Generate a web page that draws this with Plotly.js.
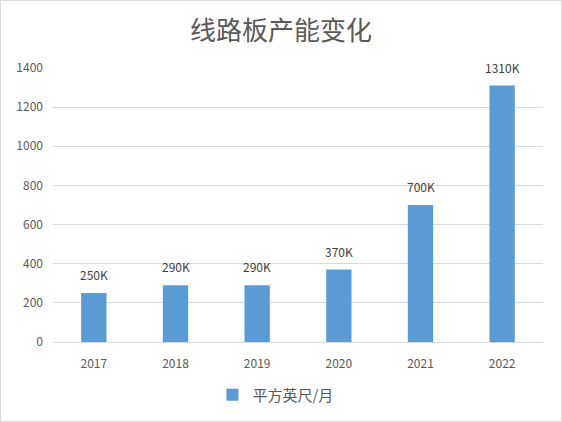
<!DOCTYPE html>
<html>
<head>
<meta charset="utf-8">
<script src="https://cdn.plot.ly/plotly-3.0.1.min.js"></script>
<style>
  body { margin: 0; background: #fff; }
  #chart { width: 560px; height: 420px; border: 1px solid #d9d9d9; }
</style>
</head>
<body>
<div id="chart"></div>
<script>
const years = ["2017", "2018", "2019", "2020", "2021", "2022"];
const capacity = [250, 290, 290, 370, 700, 1310];
const capacity_labels = ["250K", "290K", "290K", "370K", "700K", "1310K"];
const series_name = "平方英尺/月";

const font_family = "'Noto Sans CJK SC', 'Noto Sans', sans-serif";

const traces = [{
    x: years,
    y: capacity,
    type: "bar",
    name: series_name,
    marker: { color: "#5b9bd5" },
    hoverinfo: "x+y"
}];

// value labels above the bars (x as category index)
const label_annotations = capacity.map((value, i) => ({
    x: i,
    y: value,
    text: capacity_labels[i],
    showarrow: false,
    xanchor: "center",
    yanchor: "bottom",
    yshift: 8,
    font: { size: 12, color: "#404040", family: font_family }
}));

const layout = {
    width: 560, height: 420,
    margin: { l: 52, r: 18, t: 67, b: 79, pad: 0 },
    paper_bgcolor: "#ffffff",
    plot_bgcolor: "#ffffff",
    font: { family: font_family, color: "#595959", size: 12 },
    title: {
        text: "线路板产能变化",
        font: { size: 26, color: "#595959", family: font_family },
        x: 0.5, xanchor: "center",
        y: 0.93, yanchor: "middle"
    },
    bargap: 0.69,
    xaxis: {
        type: "category",
        range: [-0.5, years.length - 0.5],
        showgrid: false,
        showline: false,
        ticks: "",
        ticklabelstandoff: 13,
        tickfont: { size: 12, color: "#595959" }
    },
    yaxis: {
        range: [0, 1400],
        dtick: 200,
        gridcolor: "#d9d9d9",
        zeroline: true,
        zerolinecolor: "#d9d9d9",
        showline: false,
        ticks: "",
        ticklabelstandoff: 9,
        tickfont: { size: 12, color: "#595959" }
    },
    annotations: label_annotations,
    showlegend: true,
    legend: {
        orientation: "h",
        xref: "container", yref: "container",
        x: 0.49, xanchor: "center",
        y: 0.062, yanchor: "middle",
        itemwidth: 30,
        font: { size: 15, color: "#595959" }
    }
};

Plotly.newPlot("chart", traces, layout, { displayModeBar: false, staticPlot: true });
</script>
</body>
</html>
